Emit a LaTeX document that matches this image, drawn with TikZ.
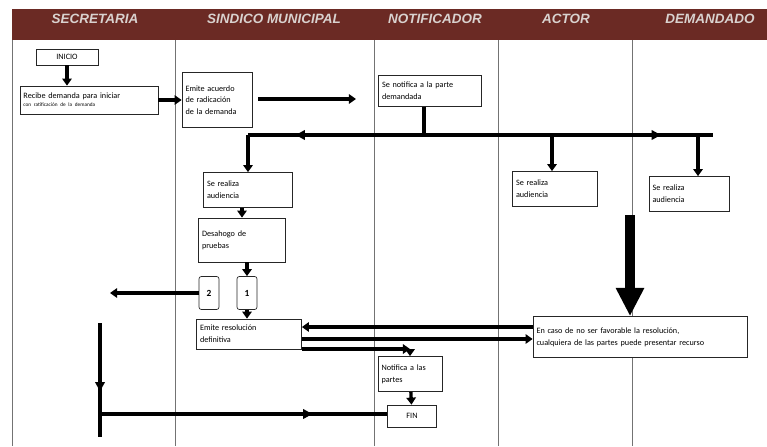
\documentclass[tikz,border=0pt]{standalone}
\usepackage{fontspec}
\setmainfont{Carlito}
\newfontfamily\headfont{Liberation Sans}
\usetikzlibrary{arrows.meta, decorations.markings, positioning}
\definecolor{headred}{HTML}{6B2A24}
\definecolor{headtext}{HTML}{D9D2CF}
\tikzset{
	stepbox/.style 2 args={
			shape=rectangle,
			draw=black!85,
			line width=0.6pt,
			fill=white,
			inner xsep=3pt,
			inner ysep=1pt,
			text width=#1,
			minimum height=#2,
			align=left,
			font=\fontsize{7}{10}\selectfont
		},
	numbox/.style={
			shape=rectangle,
			draw=black!85,
			line width=0.6pt,
			rounded corners=2pt,
			fill=white,
			inner sep=0pt,
			minimum width=0.6cm,
			minimum height=0.99cm,
			font=\fontsize{8}{9}\selectfont\bfseries
		}
}
\tikzset{
	flow/.style={line width=2.8pt, -{Triangle[length=6pt, width=8pt]}},
	flowline/.style={line width=2.8pt},
	midtip/.style={
			postaction={decorate},
			decoration={markings, mark=at position #1 with {\arrow{Triangle[length=8pt, width=8pt]}}}
		},
	bigflow/.style={line width=8pt, -{Triangle[length=0.85cm, width=0.8cm]}},
	lane/.style={draw=black!55, line width=0.5pt},
	lanehead/.style={text=headtext, font=\headfont\bfseries\itshape\fontsize{11.5}{13}\selectfont}
}

\begin{document}
\begin{tikzpicture}[x=0.03cm, y=-0.03cm]

  \useasboundingbox (0,0) rectangle (767,446);

  \fill[headred] (12,9) rectangle (767,40);
  \node[lanehead] (h1) at (95,19) {SECRETARIA};
  \node[lanehead] (h2) at (274,19) {SINDICO MUNICIPAL};
  \node[lanehead] (h3) at (435,19) {NOTIFICADOR};
  \node[lanehead] (h4) at (566,19) {ACTOR};
  \node[lanehead] (h5) at (710,19) {DEMANDADO};

  \foreach \x in {12, 175, 374, 498, 632}
    \draw[lane] (\x,40) -- (\x,446);

  \node[stepbox={1.65cm}{0.48cm}, align=center] (inicio) at (67,57) {INICIO};
  \node[stepbox={3.93cm}{0.84cm}] (recibe) at (89,100) {Recibe demanda para iniciar\\[-3pt]{\fontsize{4.5}{5}\selectfont con ratificación de la demanda}};
  \node[stepbox={1.89cm}{1.65cm}] (acuerdo) at (217,100) {Emite acuerdo\\de radicación\\de la demanda};
  \node[stepbox={2.88cm}{0.93cm}] (notifica) at (430,91) {Se notifica a la parte\\demandada};

  \node[stepbox={2.46cm}{1.05cm}] (audS) at (248,190) {Se realiza\\audiencia};
  \node[stepbox={2.34cm}{1.05cm}] (audA) at (555,189) {Se realiza\\audiencia};
  \node[stepbox={2.19cm}{1.05cm}] (audD) at (689,194) {Se realiza\\audiencia};

  \node[stepbox={2.40cm}{1.32cm}] (desahogo) at (242,240) {Desahogo de\\pruebas};
  \node[numbox] (opt2) at (209,293) {2};
  \node[numbox] (opt1) at (247,293) {1};

  \node[stepbox={2.94cm}{0.90cm}] (resol) at (249,334) {Emite resolución\\definitiva};
  \node[stepbox={6.21cm}{1.23cm}] (recurso) at (640,337) {En caso de no ser favorable la resolución,\\cualquiera de las partes puede presentar recurso};
  \node[stepbox={1.71cm}{1.05cm}] (partes) at (410,374) {Notifica a las\\partes};
  \node[stepbox={1.26cm}{0.66cm}, align=center] (fin) at (412,416) {FIN};

  \coordinate (radA) at (258,99);
  \coordinate (radB) at (356,99);
  \coordinate (dist) at (424,135);
  \coordinate (distL) at (248,135);
  \coordinate (distR) at (713,135);
  \coordinate (distA) at (552,135);
  \coordinate (distD) at (698,135);
  \coordinate (opt2end) at (110,293);
  \coordinate (bigstart) at (630,215);
  \coordinate (partesin) at (410,349);
  \coordinate (botTop) at (100,323);
  \coordinate (botEnd) at (100,437);
  \coordinate (botL) at (100,414);

  \draw[flow] (inicio.south) -- (inicio.south |- recibe.north);
  \draw[flow] (recibe.east) -- (acuerdo.west);
  \draw[flow] (radA) -- (radB);
  \draw[flowline] (notifica.south -| dist) -- (dist);
  \draw[flowline, midtip=0.73] (dist) -- (distL);
  \draw[flowline, midtip=0.82] (dist) -- (distR);
  \draw[flow] (distL) -- (distL |- audS.north);
  \draw[flow] (distA) -- (distA |- audA.north);
  \draw[flow] (distD) -- (distD |- audD.north);

  \draw[flow] (audS.south -| desahogo.north) -- (desahogo.north);
  \draw[flow] (desahogo.south -| opt1.north) -- (opt1.north);
  \draw[flow] (opt2.west) -- (opt2end);
  \draw[flow] (opt1.south) -- (opt1.south |- resol.north);

  \draw[bigflow] (bigstart) -- (bigstart |- recurso.north);
  \draw[flow] ([yshift=0.3cm]recurso.west) -- ([yshift=0.3cm]recurso.west -| resol.east);
  \draw[flow] ([yshift=-0.15cm]resol.east) -- ([yshift=-0.15cm]resol.east -| recurso.west);
  \draw[flow] (resol.south east |- partesin) -- (partesin);
  \draw[flow] (partesin) -- (partes.north);
  \draw[flow] (partes) -- (fin);

  \draw[flowline, midtip=0.6] (botTop) -- (botEnd);
  \draw[flowline, midtip=0.74] (botL) -- (botL -| fin.west);

\end{tikzpicture}
\end{document}
